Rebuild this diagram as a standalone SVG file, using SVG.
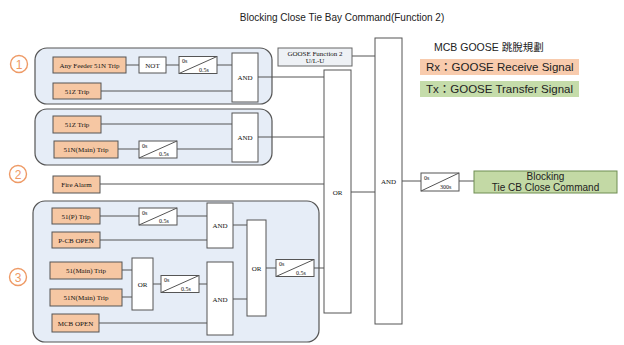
<svg xmlns="http://www.w3.org/2000/svg" width="624" height="345" viewBox="0 0 624 345">
<style>
.grp{fill:#e6edf7;stroke:#555;stroke-width:1.2}
.in{fill:#f6c7a3;stroke:#555;stroke-width:1}
.gate{fill:#fff;stroke:#555;stroke-width:1}
.ln{stroke:#555;stroke-width:1;fill:none}
.t{font-family:"Liberation Serif",serif;font-size:7px;fill:#111;text-anchor:middle}
.ts{font-family:"Liberation Serif",serif;font-size:6px;fill:#111}
.num{fill:none;stroke:#ee9a66;stroke-width:1.4}
.numt{font-family:"Liberation Sans",sans-serif;font-size:12px;fill:#ee9a66;text-anchor:middle}
.sans{font-family:"Liberation Sans","Noto Sans CJK TC",sans-serif;fill:#222}
</style>
<defs>
<g id="timer">
<rect x="0" y="0" width="38" height="17" class="gate"/>
<line x1="0" y1="17" x2="38" y2="0" class="ln"/>
<text x="3" y="6.5" class="ts">0s</text>
<text x="20" y="15" class="ts">0.5s</text>
</g>
</defs>
<rect width="624" height="345" fill="#fff"/>
<text x="342" y="21" class="sans" font-size="10" text-anchor="middle">Blocking Close Tie Bay Command(Function 2)</text>

<g id="legend">
<text x="434" y="51" class="sans" font-size="10.5">MCB GOOSE 跳脫規劃</text>
<rect x="420" y="59" width="159" height="16" fill="#f8cbad"/>
<text x="426" y="71" class="sans" font-size="11.5">Rx：GOOSE Receive Signal</text>
<rect x="420" y="81" width="159" height="16" fill="#c5dcaa"/>
<text x="426" y="93" class="sans" font-size="11.5">Tx：GOOSE Transfer Signal</text>
</g>

<g id="labels">
<circle cx="19" cy="64" r="8.5" class="num"/><text x="19" y="68.5" class="numt">1</text>
<circle cx="18" cy="174" r="8.5" class="num"/><text x="18" y="178.5" class="numt">2</text>
<circle cx="18" cy="277" r="8.5" class="num"/><text x="18" y="281.5" class="numt">3</text>
</g>

<g id="groups">
<rect x="35" y="48" width="237" height="56" rx="12" class="grp"/>
<rect x="35" y="109" width="237" height="56" rx="12" class="grp"/>
<rect x="33" y="201" width="286" height="141" rx="12" class="grp"/>
</g>

<g id="connectors">
<line x1="126" y1="65" x2="139" y2="65" class="ln"/>
<line x1="166" y1="65" x2="179" y2="65" class="ln"/>
<line x1="217" y1="65" x2="232" y2="65" class="ln"/>
<line x1="101" y1="91" x2="232" y2="91" class="ln"/>
<line x1="258" y1="77" x2="324" y2="77" class="ln"/>
<line x1="101" y1="124" x2="232" y2="124" class="ln"/>
<line x1="118" y1="149" x2="139" y2="149" class="ln"/>
<line x1="177" y1="149" x2="232" y2="149" class="ln"/>
<line x1="258" y1="137" x2="324" y2="137" class="ln"/>
<line x1="100" y1="184" x2="324" y2="184" class="ln"/>
<line x1="352" y1="56" x2="375" y2="56" class="ln"/>
<line x1="351" y1="192" x2="375" y2="192" class="ln"/>
<line x1="402" y1="181" x2="421" y2="181" class="ln"/>
<line x1="459" y1="181" x2="474" y2="181" class="ln"/>
<line x1="100" y1="216" x2="139" y2="216" class="ln"/>
<line x1="177" y1="216" x2="207" y2="216" class="ln"/>
<line x1="100" y1="240" x2="207" y2="240" class="ln"/>
<line x1="233" y1="225" x2="247" y2="225" class="ln"/>
<line x1="122" y1="270" x2="132" y2="270" class="ln"/>
<line x1="122" y1="297" x2="132" y2="297" class="ln"/>
<line x1="153" y1="284" x2="161" y2="284" class="ln"/>
<line x1="199" y1="284" x2="207" y2="284" class="ln"/>
<line x1="99" y1="323" x2="207" y2="323" class="ln"/>
<line x1="233" y1="299" x2="247" y2="299" class="ln"/>
<line x1="266" y1="268" x2="276" y2="268" class="ln"/>
<line x1="314" y1="268" x2="324" y2="268" class="ln"/>
</g>

<g id="n1-anyfeeder"><rect x="53" y="57" width="73" height="16" class="in"/><text x="89.5" y="67.5" class="t">Any Feeder 51N Trip</text></g>
<g id="n1-not"><rect x="139" y="57" width="27" height="16" class="gate"/><text x="152.5" y="67.5" class="t">NOT</text></g>
<g id="n1-timer"><use href="#timer" x="179" y="56.5"/></g>
<g id="n1-and"><rect x="232" y="53" width="26" height="49" class="gate"/><text x="245" y="79.5" class="t">AND</text></g>
<g id="n1-51z"><rect x="53" y="83" width="48" height="16" class="in"/><text x="77" y="93.5" class="t">51Z Trip</text></g>

<g id="n2-51z"><rect x="53" y="116" width="48" height="17" class="in"/><text x="77" y="127" class="t">51Z Trip</text></g>
<g id="n2-51n"><rect x="54" y="141" width="64" height="17" class="in"/><text x="86" y="152" class="t">51N(Main) Trip</text></g>
<g id="n2-timer"><use href="#timer" x="139" y="141"/></g>
<g id="n2-and"><rect x="232" y="113" width="26" height="49" class="gate"/><text x="245" y="139.5" class="t">AND</text></g>

<g id="n-fire"><rect x="53" y="176" width="47" height="17" class="in"/><text x="76.5" y="187" class="t">Fire Alarm</text></g>

<g id="n3-51p"><rect x="52" y="208" width="48" height="16" class="in"/><text x="76" y="218.5" class="t">51(P) Trip</text></g>
<g id="n3-timer1"><use href="#timer" x="139" y="208"/></g>
<g id="n3-pcb"><rect x="52" y="232" width="48" height="16" class="in"/><text x="76" y="242.5" class="t">P-CB OPEN</text></g>
<g id="n3-and1"><rect x="207" y="203" width="26" height="45" class="gate"/><text x="220" y="227.5" class="t">AND</text></g>
<g id="n3-51m"><rect x="50" y="262" width="72" height="17" class="in"/><text x="86" y="273" class="t">51(Main) Trip</text></g>
<g id="n3-51nm"><rect x="50" y="289" width="72" height="17" class="in"/><text x="86" y="300" class="t">51N(Main) Trip</text></g>
<g id="n3-or1"><rect x="132" y="258" width="21" height="52" class="gate"/><text x="142.5" y="286.5" class="t">OR</text></g>
<g id="n3-timer2"><use href="#timer" x="161" y="275.5"/></g>
<g id="n3-and2"><rect x="207" y="262" width="26" height="73" class="gate"/><text x="220" y="301.5" class="t">AND</text></g>
<g id="n3-mcb"><rect x="52" y="314" width="47" height="18" class="in"/><text x="75.5" y="325.5" class="t">MCB OPEN</text></g>
<g id="n3-or2"><rect x="247" y="220" width="19" height="96" class="gate"/><text x="256.5" y="270.5" class="t">OR</text></g>
<g id="n3-timer3"><use href="#timer" x="276" y="259.5"/></g>

<g id="n-goose"><rect x="278" y="48" width="74" height="18" fill="#eef1f5" stroke="#666" stroke-width="1"/><text x="315" y="55.5" class="t" font-size="6.5">GOOSE Function 2</text><text x="315" y="63" class="t" font-size="6.5">U/L-U</text></g>
<g id="n-or"><rect x="324" y="70" width="27" height="243" class="gate"/><text x="337.5" y="194.5" class="t">OR</text></g>
<g id="n-and"><rect x="375" y="38" width="27" height="286" class="gate"/><text x="388.5" y="183.5" class="t">AND</text></g>
<g id="n-timer300"><rect x="421" y="173" width="38" height="18" class="gate"/><line x1="421" y1="191" x2="459" y2="173" class="ln"/><text x="424" y="179.5" class="ts">0s</text><text x="440" y="189" class="ts">300s</text></g>
<g id="n-output"><rect x="474" y="171" width="143" height="22" fill="#c3d9a5" stroke="#6f8d52" stroke-width="1"/><text x="545.5" y="180" class="sans" font-size="10" text-anchor="middle">Blocking</text><text x="545.5" y="190.5" class="sans" font-size="10" text-anchor="middle">Tie CB Close Command</text></g>
</svg>
